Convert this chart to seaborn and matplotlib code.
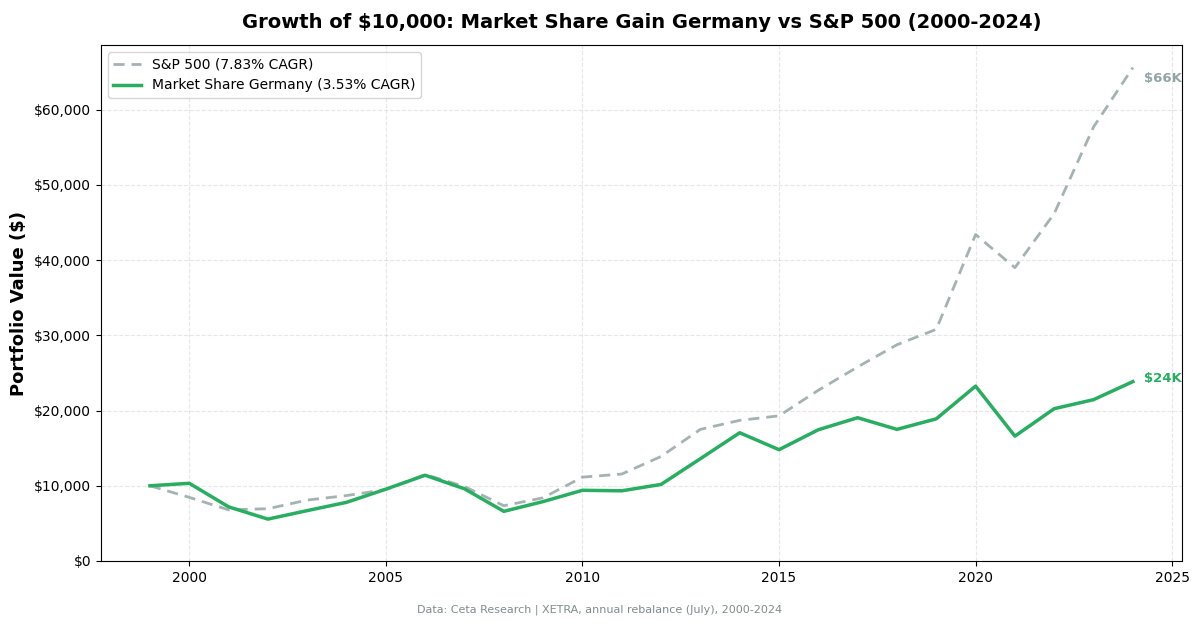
import matplotlib
matplotlib.use("Agg")
import matplotlib.pyplot as plt
import matplotlib.ticker as mticker
import seaborn as sns
import pandas as pd

years = list(range(1999, 2025))
sp500 = [10000, 8460, 6800, 6950, 8100, 8700, 9500, 11500, 9900, 7350, 8400,
         11150, 11560, 13900, 17500, 18700, 19300, 22700, 25800, 28750, 30800,
         43400, 39000, 46200, 57700, 65600]
germany = [10000, 10330, 7200, 5570, 6700, 7800, 9550, 11400, 9600, 6600, 7900,
           9400, 9330, 10180, 13600, 17050, 14800, 17450, 19050, 17500, 18900,
           23250, 16600, 20250, 21450, 23850]

sp_label = "S&P 500 (7.83% CAGR)"
de_label = "Market Share Germany (3.53% CAGR)"
title = "Growth of $10,000: Market Share Gain Germany vs S&P 500 (2000-2024)"
ylabel = "Portfolio Value ($)"
footer = "Data: Ceta Research | XETRA, annual rebalance (July), 2000-2024"

gray = "#95a5a6"
green = "#27ae60"

df = pd.DataFrame({"year": years, "sp": sp500, "de": germany})

plt.rcParams["font.family"] = ["DejaVu Sans"]
fig, ax = plt.subplots(figsize=(12, 6.25), dpi=100)
fig.subplots_adjust(left=0.084, right=0.985, top=0.928, bottom=0.1024)

sns.lineplot(data=df, x="year", y="sp", ax=ax, color=gray, linewidth=2,
             linestyle=(0, (4, 2.5)), alpha=0.85, label=sp_label)
sns.lineplot(data=df, x="year", y="de", ax=ax, color=green, linewidth=2.5,
             label=de_label)

ax.annotate(f"${sp500[-1]/1000:.0f}K", xy=(years[-1], sp500[-1]),
            xytext=(8, -8), textcoords="offset points", va="center",
            ha="left", fontsize=9.5, fontweight="bold", color=gray)
ax.annotate(f"${germany[-1]/1000:.0f}K", xy=(years[-1], germany[-1]),
            xytext=(8, 2), textcoords="offset points", va="center",
            ha="left", fontsize=9.5, fontweight="bold", color=green)

ax.set_ylim(bottom=0)
ax.yaxis.set_major_formatter(mticker.FuncFormatter(lambda v, p: f"${v:,.0f}"))
ax.set_xlabel("")
ax.set_ylabel(ylabel, fontsize=13, fontweight="bold")
ax.set_title(title, fontsize=14, fontweight="bold", pad=12)
ax.grid(True, linestyle="--", alpha=0.3)
ax.tick_params(labelsize=10)
ax.legend(loc="upper left", fontsize=10)

fig.text(0.5, 0.02, footer, ha="center", fontsize=8, color="#7f8c8d")

fig.savefig("out.png", dpi=100)
